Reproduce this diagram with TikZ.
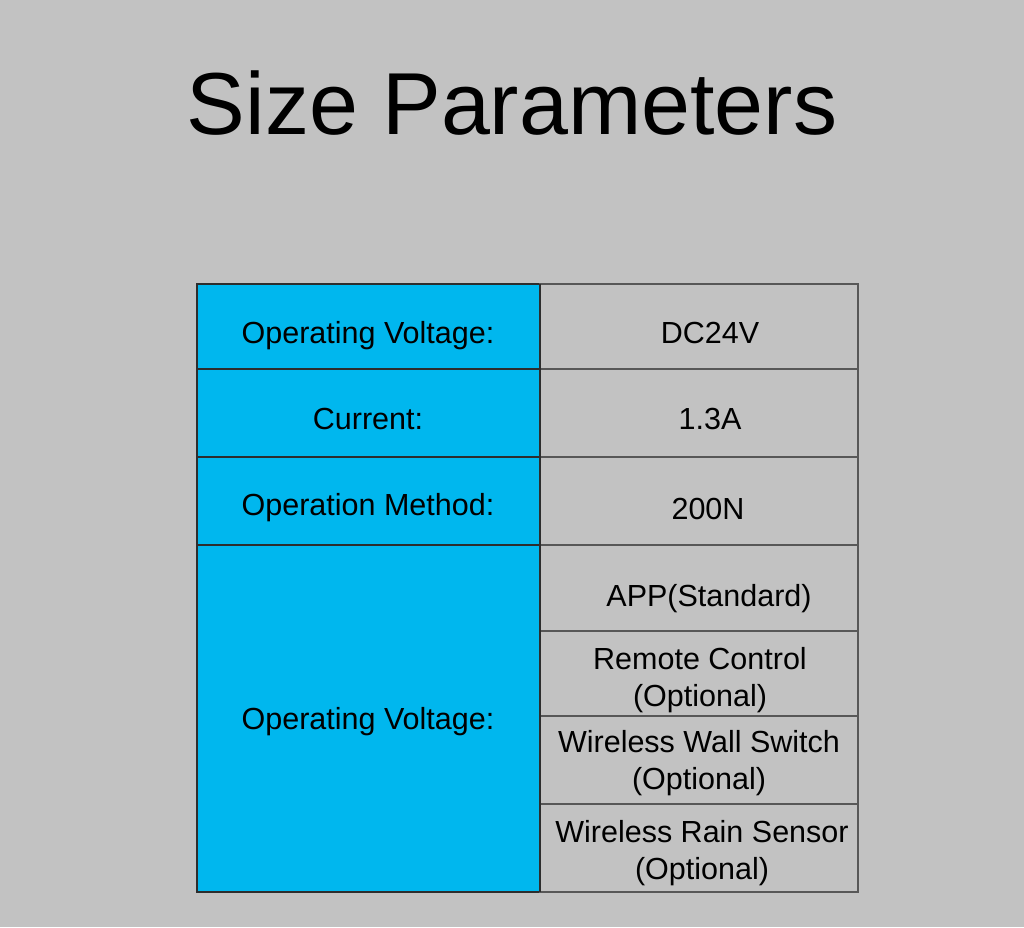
\documentclass[tikz,border=0pt]{standalone}
\usepackage{fontspec}
\setmainfont{Liberation Sans}
\definecolor{bg}{RGB}{194,194,194}
\definecolor{cy}{RGB}{0,183,238}
\definecolor{ln}{RGB}{45,45,45}
\begin{document}
\begin{tikzpicture}[x=1pt,y=-1pt,
  lcell/.style={draw=ln,line width=1.5pt,fill=cy},
  rcell/.style={draw=ln!80,line width=1.5pt,fill=bg},
  txt/.style={font=\fontsize{30.5}{37}\selectfont,align=center,inner sep=0pt}]
\fill[bg] (0,0) rectangle (1024,927);
\useasboundingbox (0,0) rectangle (1024,927);
\node[inner sep=0pt,font=\fontsize{88}{100}\selectfont] (title) at (512,103) {Size Parameters};
% left column
\draw[lcell] (197,284) rectangle (540,369);
\draw[lcell] (197,369) rectangle (540,457);
\draw[lcell] (197,457) rectangle (540,545);
\draw[lcell] (197,545) rectangle (540,892);
% right column
\draw[rcell] (540,284) rectangle (858,369);
\draw[rcell] (540,369) rectangle (858,457);
\draw[rcell] (540,457) rectangle (858,545);
\draw[rcell] (540,545) rectangle (858,631);
\draw[rcell] (540,631) rectangle (858,716);
\draw[rcell] (540,716) rectangle (858,804);
\draw[rcell] (540,804) rectangle (858,892);
\draw[draw=ln,line width=2.5pt] (540,284) -- (540,892);
\node[txt] (l1) at (368,336) {Operating Voltage:};
\node[txt] (l2) at (368,419) {Current:};
\node[txt] (l3) at (368,508) {Operation Method:};
\node[txt] (l4) at (368,722) {Operating Voltage:};
\node[txt] (r1) at (710,333) {DC24V};
\node[txt] (r2) at (710,419) {1.3A};
\node[txt] (r3) at (708,509) {200N};
\node[txt] (r4) at (709,599) {APP(Standard)};
\node[txt] (r5) at (700,680) {Remote Control\\(Optional)};
\node[txt] (r6) at (699,763) {Wireless Wall Switch\\(Optional)};
\node[txt] (r7) at (702,853) {Wireless Rain Sensor\\(Optional)};
\end{tikzpicture}
\end{document}
